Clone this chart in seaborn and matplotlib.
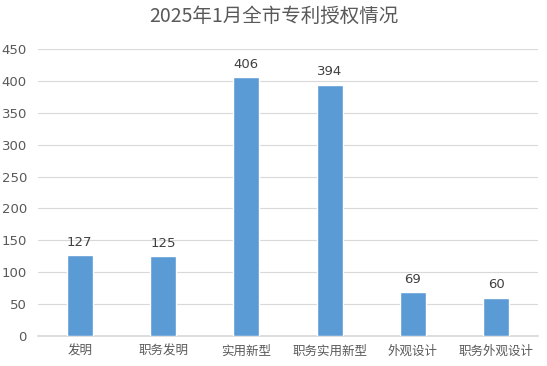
import matplotlib
matplotlib.use("Agg")
import matplotlib.pyplot as plt
import seaborn as sns
import pandas as pd

# ── Data ──────────────────────────────────────────────────────
categories = ["发明", "职务发明", "实用新型", "职务实用新型", "外观设计", "职务外观设计"]
counts = [127, 125, 406, 394, 69, 60]
y_ticks = [0, 50, 100, 150, 200, 250, 300, 350, 400, 450]

df = pd.DataFrame({"cat": categories, "n": counts})

sns.set_theme(style="white")
plt.rcParams["font.family"] = ["Noto Sans CJK SC", "DejaVu Sans"]

TXT = "#595959"
fig = plt.figure(figsize=(5.47, 3.66), dpi=100)
ax = fig.add_axes([0.0695, 0.082, 0.914, 0.784])

sns.barplot(data=df, x="cat", y="n", color="#5B9BD5", saturation=1,
            width=0.31, ax=ax, zorder=3)

ax.set_ylim(0, 450)
ax.set_yticks(y_ticks)
ax.set_xlim(-0.5, len(categories) - 0.5)
ax.grid(axis="y", color="#D9D9D9", linewidth=0.8, zorder=0)
for s in ["top", "right", "left"]:
    ax.spines[s].set_visible(False)
ax.spines["bottom"].set_color("#D9D9D9")
ax.set_xlabel("")
ax.set_ylabel("")
ax.tick_params(axis="x", colors=TXT, labelsize=9, length=0, pad=6)
ax.tick_params(axis="y", colors=TXT, labelsize=9.5, length=0, pad=8)
for lab in ax.get_yticklabels():
    lab.set_family("DejaVu Sans")

for i, v in enumerate(counts):
    ax.text(i, v + 10, str(v), ha="center", va="bottom", fontsize=9.5,
            color="#404040", family="DejaVu Sans")

fig.suptitle("2025年1月全市专利授权情况", x=0.5, y=0.985, fontsize=14,
             color=TXT, va="top")

fig.savefig("out.png", dpi=100)
